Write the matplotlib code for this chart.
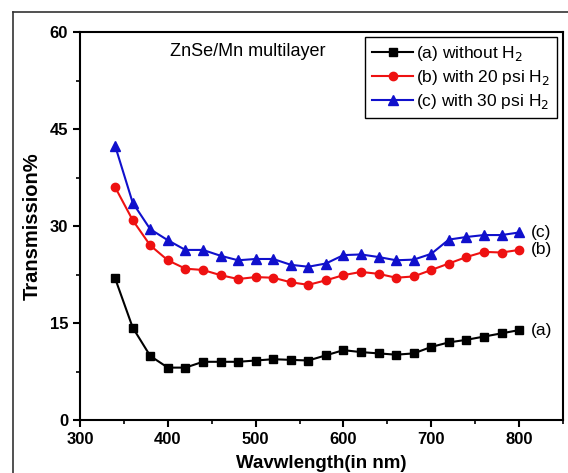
import matplotlib
matplotlib.use('Agg')
import matplotlib.pyplot as plt
from matplotlib.lines import Line2D
from matplotlib.ticker import MultipleLocator

plt.rcParams['font.family'] = ['Liberation Sans', 'DejaVu Sans']

# wavelength (nm)
wl = [340, 360, 380, 400, 420, 440, 460, 480, 500, 520, 540, 560,
      580, 600, 620, 640, 660, 680, 700, 720, 740, 760, 780, 800]

# transmission %
t_a = [21.9, 14.3, 9.9, 8.1, 8.1, 9.0, 9.0, 9.0, 9.2, 9.4, 9.3, 9.2,
       10.0, 10.8, 10.5, 10.3, 10.1, 10.3, 11.3, 12.0, 12.4, 12.9, 13.4, 13.9]
t_b = [36.0, 30.9, 27.0, 24.7, 23.4, 23.2, 22.4, 21.8, 22.1, 22.0, 21.3, 20.9,
       21.6, 22.4, 22.9, 22.6, 22.0, 22.2, 23.2, 24.2, 25.2, 26.0, 25.9, 26.3]
t_c = [42.4, 33.6, 29.5, 27.8, 26.3, 26.3, 25.4, 24.7, 24.9, 24.9, 24.0, 23.7,
       24.2, 25.5, 25.6, 25.2, 24.7, 24.8, 25.7, 27.9, 28.3, 28.6, 28.6, 29.0]

labels = ['(a) without H$_2$', '(b) with 20 psi H$_2$', '(c) with 30 psi H$_2$']
tags = ['(a)', '(b)', '(c)']

fig = plt.figure(figsize=(5.68, 4.73), dpi=100)
ax = fig.add_axes([80/568, 1-420/473, 483/568, 388/473])

ax.plot(wl, t_a, color='black', marker='s', ms=5.5, lw=1.5, label=labels[0])
ax.plot(wl, t_b, color='#ee1111', marker='o', ms=6, lw=1.5, label=labels[1])
ax.plot(wl, t_c, color='#1010cc', marker='^', ms=6.5, lw=1.5, label=labels[2])

# tags at the right end of each curve
for ys, tg in zip([t_a, t_b, t_c], tags):
    ax.text(wl[-1] + 13, ys[-1], tg, fontsize=12.5, va='center', ha='left')

ax.text(0.186, 0.951, 'ZnSe/Mn multilayer', transform=ax.transAxes,
        fontsize=13, va='center')

ax.set_xlim(300, 850)
ax.set_ylim(0, 60)
ax.xaxis.set_major_locator(MultipleLocator(100))
ax.xaxis.set_minor_locator(MultipleLocator(50))
ax.yaxis.set_major_locator(MultipleLocator(15))
ax.yaxis.set_minor_locator(MultipleLocator(7.5))
ax.set_xticks([300, 400, 500, 600, 700, 800])
ax.tick_params(which='major', direction='out', length=5, width=1.5, labelsize=12)
ax.tick_params(which='minor', direction='out', length=3, width=1.2)
for lab in ax.get_xticklabels() + ax.get_yticklabels():
    lab.set_fontweight('bold')
for s in ax.spines.values():
    s.set_linewidth(1.5)

ax.set_xlabel('Wavwlength(in nm)', fontsize=13.5, fontweight='bold', labelpad=6)
ax.set_ylabel('Transmission%', fontsize=14.5, fontweight='bold', labelpad=6)

leg = ax.legend(loc='upper right', bbox_to_anchor=(0.988, 0.988), borderaxespad=0,
                fontsize=12.5, fancybox=False, edgecolor='black', framealpha=1,
                handlelength=2.4, handletextpad=0.15, labelspacing=0.3,
                borderpad=0.4)
leg.get_frame().set_linewidth(1.0)

# outer frame of the picture
fig.add_artist(Line2D([13/568, 13/568], [0, 1-12/473], color='#333333', lw=1.2))
fig.add_artist(Line2D([13/568, 1], [1-12/473, 1-12/473], color='#333333', lw=1.2))

fig.savefig('out.png', dpi=100)
